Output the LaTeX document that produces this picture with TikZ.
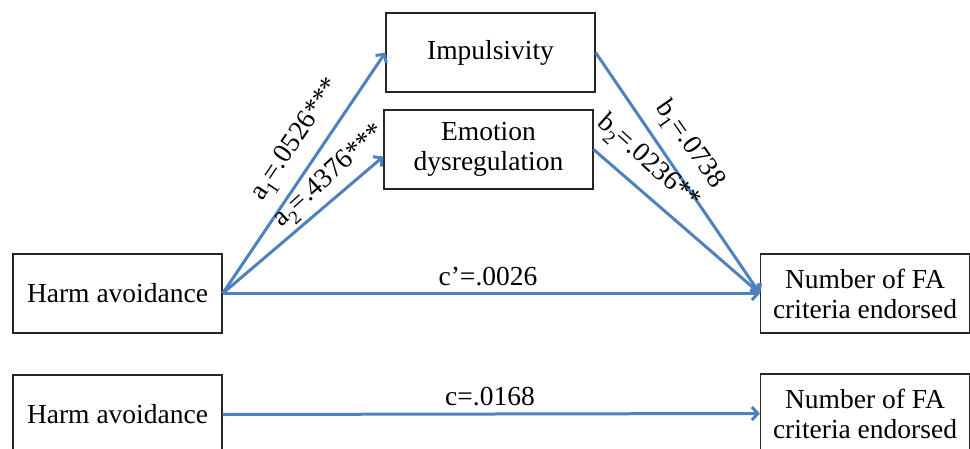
\documentclass[tikz,border=0pt]{standalone}
\usepackage{fontspec}
\setmainfont{Liberation Serif}
\usetikzlibrary{arrows.meta}
\definecolor{arrblue}{RGB}{79,129,189}
\newcommand\lsub[1]{\raisebox{-0.28em}{\fontsize{19}{19}\selectfont #1}}
\begin{document}
\begin{tikzpicture}[x=1pt,y=-1pt,
  box/.style={draw=black!85, line width=1.2pt, minimum width=209pt, minimum height=79pt, inner sep=0pt, align=center, font=\fontsize{27.5}{30}\selectfont},
  conn/.style={draw=arrblue, line width=3pt, -{Straight Barb[length=6pt,width=13pt]}},
  lbl/.style={font=\fontsize{27.5}{30}\selectfont, inner sep=0pt}]
\useasboundingbox (0,0) rectangle (970,448);
\node[box] (ha1) at (117.5,293.5) {Harm avoidance};
\node[box] (imp) at (490.5,52.5) {Impulsivity};
\node[box] (emo) at (488.5,149.5) {Emotion\\dysregulation};
\node[box] (nfa1) at (865,293.5) {Number of FA\\criteria endorsed};
\node[box] (ha2) at (117.5,414.5) {Harm avoidance};
\node[box] (nfa2) at (865,413.5) {Number of FA\\criteria endorsed};
\coordinate (emoin) at ([yshift=-7pt]emo.west);
\draw[conn] (ha1.east) -- (imp.west);
\draw[conn] (ha1.east) -- (emoin);
\draw[conn] (ha1.east) -- (nfa1.west);
\draw[conn] (imp.east) -- (nfa1.west);
\draw[conn] (emo.east) -- (nfa1.west);
\draw[conn] (ha2.east) -- (nfa2.west);
\node[lbl, rotate=56] (la1) at (297,140) {a\lsub{1}=.0526***};
\node[lbl, rotate=42] (la2) at (330,177) {a\lsub{2}=.4376***};
\node[lbl, rotate=-55] (lb1) at (689,145) {b\lsub{1}=.0738};
\node[lbl, rotate=-42] (lb2) at (648,163) {b\lsub{2}=.0236**};
\node[lbl] (lcp) at (488,277) {c’=.0026};
\node[lbl] (lc) at (490,397) {c=.0168};
\end{tikzpicture}
\end{document}
